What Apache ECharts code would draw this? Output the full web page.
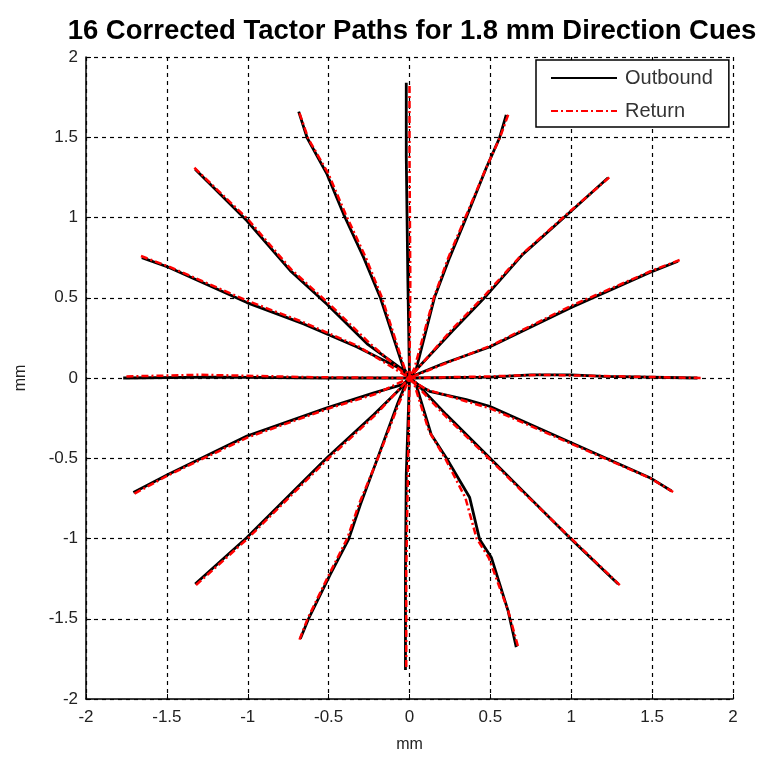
<!DOCTYPE html>
<html>
<head>
<meta charset="utf-8">
<script src="https://cdn.jsdelivr.net/npm/echarts@6/dist/echarts.min.js"></script>
<style>
  html, body { margin: 0; padding: 0; background: #fff; }
  #chart { width: 764px; height: 758px; }
</style>
</head>
<body>
<div id="chart"></div>
<script>
// tick values for both axes
var ticks = [-2, -1.5, -1, -0.5, 0, 0.5, 1, 1.5, 2];

// outbound paths (black), one per direction cue, from origin outwards
var out0   = [[0,0],[0.5,0.005],[0.75,0.02],[1.0,0.02],[1.2,0.01],[1.78,0]];
var out22  = [[0,0],[0.04,0.02],[0.206,0.089],[0.495,0.193],[1.0,0.44],[1.486,0.658],[1.66,0.727]];
var out45  = [[0,0],[0.04,0.05],[0.268,0.296],[0.475,0.513],[0.70,0.77],[1.0,1.04],[1.228,1.248]];
var out67  = [[0,0],[0.04,0.05],[0.155,0.503],[0.248,0.75],[0.351,1.0],[0.475,1.31],[0.557,1.497],[0.598,1.64]];
var out90  = [[0,0],[-0.01,0.6],[-0.02,1.38],[-0.02,1.84]];
var out112 = [[0,0],[-0.04,0.07],[-0.18,0.50],[-0.283,0.75],[-0.407,1.02],[-0.51,1.27],[-0.633,1.497],[-0.685,1.66]];
var out135 = [[0,0],[-0.04,0.05],[-0.262,0.213],[-0.51,0.46],[-0.737,0.669],[-1.005,0.98],[-1.325,1.30]];
var out157 = [[0,0],[-0.04,0.05],[-0.324,0.193],[-0.654,0.337],[-1.005,0.47],[-1.49,0.69],[-1.655,0.75]];
var out180 = [[0,0],[-0.5,0],[-1.2,0.005],[-1.77,0]];
var out202 = [[0,0],[-0.04,-0.04],[-0.22,-0.093],[-0.51,-0.186],[-1.005,-0.362],[-1.49,-0.60],[-1.707,-0.714]];
var out225 = [[0,0],[-0.04,-0.05],[-0.22,-0.228],[-0.51,-0.497],[-1.005,-0.994],[-1.325,-1.284]];
var out247 = [[0,0],[-0.025,-0.04],[-0.076,-0.166],[-0.2,-0.507],[-0.303,-0.787],[-0.376,-1.004],[-0.489,-1.222],[-0.624,-1.50],[-0.675,-1.625]];
var out270 = [[0,0],[-0.02,-0.6],[-0.025,-1.2],[-0.025,-1.82]];
var out292 = [[0,0],[0.04,-0.04],[0.134,-0.352],[0.227,-0.497],[0.372,-0.745],[0.433,-1.004],[0.506,-1.118],[0.609,-1.449],[0.66,-1.677]];
var out315 = [[0,0],[0.04,-0.03],[0.227,-0.228],[0.495,-0.497],[0.68,-0.683],[1.0,-1.004],[1.29,-1.284]];
var out337 = [[0,0],[0.03,-0.03],[0.124,-0.083],[0.351,-0.135],[0.495,-0.176],[1.0,-0.404],[1.486,-0.621],[1.62,-0.704]];

// return paths (red dash-dot), from the end point back to origin
var ret0   = [[1.8,0],[1.2,0.012],[0.8,0.02],[0.5,0.01],[0,0]];
var ret22  = [[1.67,0.735],[1.49,0.665],[1.0,0.45],[0.5,0.2],[0.2,0.082],[0,0]];
var ret45  = [[1.235,1.25],[1.0,1.045],[0.7,0.775],[0.47,0.52],[0.26,0.3],[0,0]];
var ret67  = [[0.61,1.64],[0.56,1.5],[0.47,1.3],[0.345,1.0],[0.24,0.75],[0.15,0.5],[0.03,0.06],[0,0]];
var ret90  = [[0,1.82],[0,1.4],[0.005,0.6],[0,0]];
var ret112 = [[-0.68,1.65],[-0.625,1.49],[-0.5,1.27],[-0.395,1.02],[-0.27,0.75],[-0.17,0.5],[-0.03,0.06],[0,0]];
var ret135 = [[-1.33,1.31],[-1.0,0.99],[-0.73,0.675],[-0.5,0.465],[-0.25,0.22],[0,0]];
var ret157 = [[-1.66,0.76],[-1.49,0.695],[-1.0,0.48],[-0.65,0.345],[-0.32,0.2],[0,0]];
var ret180 = [[-1.75,0.01],[-1.5,0.015],[-1.3,0.02],[-0.6,0.005],[0,0]];
var ret202 = [[-1.7,-0.72],[-1.49,-0.605],[-1.0,-0.37],[-0.5,-0.19],[-0.21,-0.1],[0,0]];
var ret225 = [[-1.32,-1.29],[-1.0,-1.0],[-0.5,-0.5],[-0.21,-0.23],[0,0]];
var ret247 = [[-0.68,-1.63],[-0.63,-1.5],[-0.5,-1.23],[-0.385,-1.0],[-0.31,-0.78],[-0.195,-0.5],[-0.07,-0.17],[0,0]];
var ret270 = [[-0.02,-1.8],[-0.02,-1.2],[-0.01,-0.6],[0,0]];
var ret292 = [[0.67,-1.67],[0.61,-1.45],[0.49,-1.12],[0.415,-1.0],[0.345,-0.745],[0.22,-0.5],[0.12,-0.33],[0.03,-0.04],[0,0]];
var ret315 = [[1.3,-1.29],[1.0,-1.0],[0.68,-0.69],[0.49,-0.5],[0.22,-0.235],[0,0]];
var ret337 = [[1.63,-0.71],[1.49,-0.625],[1.0,-0.41],[0.5,-0.19],[0.3,-0.13],[0.1,-0.07],[0,0]];

var outbound = [out0, out22, out45, out67, out90, out112, out135, out157,
                out180, out202, out225, out247, out270, out292, out315, out337];
var returns  = [ret0, ret22, ret45, ret67, ret90, ret112, ret135, ret157,
                ret180, ret202, ret225, ret247, ret270, ret292, ret315, ret337];

var chart = echarts.init(document.getElementById('chart'));

var series = [];
outbound.forEach(function (d) {
    series.push({
        name: 'Outbound',
        type: 'line',
        data: d,
        symbol: 'none',
        silent: true,
        z: 3,
        itemStyle: { color: '#000' },
        lineStyle: { color: '#000', width: 2.8 }
    });
});
returns.forEach(function (d) {
    series.push({
        name: 'Return',
        type: 'line',
        data: d,
        symbol: 'none',
        silent: true,
        z: 4,
        itemStyle: { color: '#ff0000' },
        lineStyle: { color: '#ff0000', width: 2.5, type: [7, 3, 2, 3] }
    });
});

function axisOpt(name, isY) {
    return {
        type: 'value',
        min: -2,
        max: 2,
        interval: 0.5,
        name: name,
        nameLocation: 'middle',
        nameGap: isY ? 57 : 38,
        nameTextStyle: { color: '#222', fontSize: 16, fontFamily: 'Liberation Sans' },
        axisLine: { show: true, onZero: false, lineStyle: { color: '#000', width: 1.5 } },
        axisTick: { show: true, inside: true, length: 5, lineStyle: { color: '#000' } },
        axisLabel: {
            color: '#222', fontSize: 17, fontFamily: 'Liberation Sans', margin: isY ? 8 : 10,
            formatter: function (v) { return String(v); }
        },
        splitLine: { show: true, lineStyle: { color: '#000', type: [4, 4], width: 1.2 } }
    };
}

var option = {
    backgroundColor: '#fff',
    animation: false,
    title: {
        text: '16 Corrected Tactor Paths for 1.8 mm Direction Cues',
        left: 407,
        textAlign: 'center',
        top: 12,
        textStyle: { color: '#000', fontSize: 27.5, fontWeight: 'bold', fontFamily: 'Liberation Sans' }
    },
    legend: {
        left: 536,
        top: 60,
        orient: 'vertical',
        data: ['Outbound', 'Return'],
        backgroundColor: '#fff',
        borderColor: '#000',
        borderWidth: 1.5,
        borderRadius: 0,
        padding: [8, 16, 6, 14],
        itemWidth: 66,
        itemHeight: 14,
        itemGap: 13,
        itemStyle: { opacity: 0 },
        textStyle: { color: '#333', fontSize: 20, fontFamily: 'Liberation Sans', padding: [0, 0, 0, 3] }
    },
    grid: { left: 86, right: 31, top: 57, bottom: 58 },
    xAxis: axisOpt('mm', false),
    yAxis: axisOpt('mm', true),
    series: series
};

chart.setOption(option);
</script>
</body>
</html>
